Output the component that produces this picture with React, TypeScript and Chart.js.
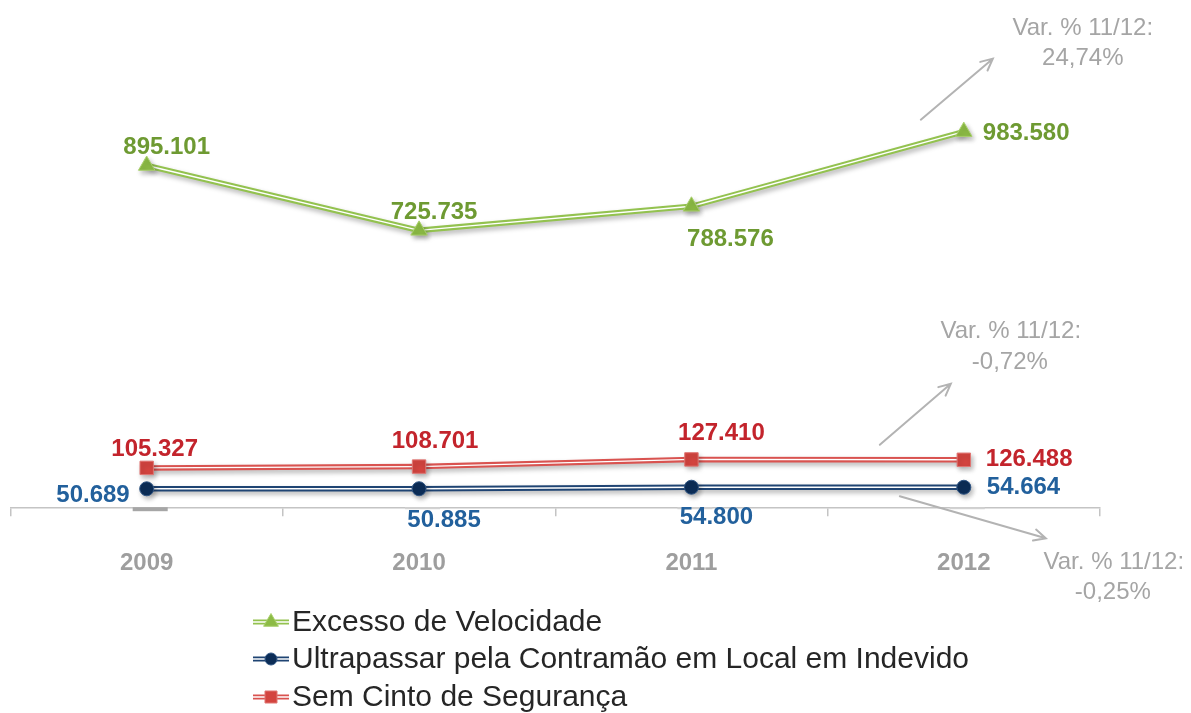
import React, { useEffect, useRef } from "react";
import { Chart, registerables } from "chart.js";
Chart.register(...registerables);

const years = ["2009", "2010", "2011", "2012"];
const excessoVelocidade = [895101, 725735, 788576, 983580];
const ultrapassarContramao = [50689, 50885, 54800, 54664];
const semCinto = [105327, 108701, 127410, 126488];
const seriesNames = [
  "Excesso de Velocidade",
  "Ultrapassar pela Contramão em Local em Indevido",
  "Sem Cinto de Segurança",
];
const variationTitle = "Var. % 11/12:";
const variationValues = ["24,74%", "-0,72%", "-0,25%"]; // Excesso, Sem Cinto, Ultrapassar

const FONT = "'Liberation Sans', Arial, Helvetica, sans-serif";

const fmt = (n: number) => String(n).replace(/\B(?=(\d{3})+(?!\d))/g, ".");

// style / placement of each series (not data)
const seriesStyles = [
  {
    line: "#93c24f",
    pointStyle: "triangle",
    radius: 9.5,
    fill: "#8cbb45",
    border: "#a9d06c",
    label: "#6e9a32",
    offsets: [
      [20, -18, "center"],
      [15, -18, "center"],
      [39, 33, "center"],
      [19, 2, "left"],
    ],
  },
  {
    line: "#1f4473",
    pointStyle: "circle",
    radius: 7,
    fill: "#0c2d57",
    border: "#2f5584",
    label: "#22609c",
    offsets: [
      [-17, 7, "right"],
      [25, 32, "center"],
      [25, 30, "center"],
      [23, 0, "left"],
    ],
  },
  {
    line: "#d95350",
    pointStyle: "rect",
    radius: 9.5,
    fill: "#d3443f",
    border: "#e07673",
    label: "#c3242c",
    offsets: [
      [8, -19, "center"],
      [16, -25, "center"],
      [30, -26, "center"],
      [22, 0, "left"],
    ],
  },
];

const seriesData = [excessoVelocidade, ultrapassarContramao, semCinto];

function drawMarker(ctx: CanvasRenderingContext2D, style: string, x: number, y: number, r: number, fill: string, border: string) {
  ctx.save();
  ctx.fillStyle = fill;
  ctx.strokeStyle = border;
  ctx.lineWidth = 1;
  ctx.beginPath();
  if (style === "triangle") {
    ctx.moveTo(x, y - r);
    ctx.lineTo(x + r * 0.87, y + r * 0.5);
    ctx.lineTo(x - r * 0.87, y + r * 0.5);
    ctx.closePath();
  } else if (style === "circle") {
    ctx.arc(x, y, r, 0, Math.PI * 2);
  } else {
    const s = r * Math.SQRT1_2;
    ctx.rect(x - s, y - s, 2 * s, 2 * s);
  }
  ctx.fill();
  ctx.stroke();
  ctx.restore();
}

function arrow(ctx: CanvasRenderingContext2D, x1: number, y1: number, x2: number, y2: number) {
  ctx.save();
  ctx.strokeStyle = "#b3b3b3";
  ctx.lineWidth = 2;
  ctx.lineCap = "round";
  ctx.beginPath();
  ctx.moveTo(x1, y1);
  ctx.lineTo(x2, y2);
  const a = Math.atan2(y2 - y1, x2 - x1);
  const L = 13;
  ctx.moveTo(x2 - L * Math.cos(a - 0.45), y2 - L * Math.sin(a - 0.45));
  ctx.lineTo(x2, y2);
  ctx.lineTo(x2 - L * Math.cos(a + 0.45), y2 - L * Math.sin(a + 0.45));
  ctx.stroke();
  ctx.restore();
}

const shadowPlugin = {
  id: "lineShadow",
  beforeDatasetDraw(chart: any, args: any) {
    const ds = chart.data.datasets[args.index];
    if (ds.shadow) {
      const ctx = chart.ctx;
      ctx.save();
      ctx.shadowColor = "rgba(0,0,0,0.28)";
      ctx.shadowBlur = 5;
      ctx.shadowOffsetX = 2;
      ctx.shadowOffsetY = 3;
    }
  },
  afterDatasetDraw(chart: any, args: any) {
    const ds = chart.data.datasets[args.index];
    if (ds.shadow) chart.ctx.restore();
  },
};

const decorPlugin = {
  id: "decor",
  beforeDatasetsDraw(chart: any) {
    const ctx = chart.ctx;
    const x = chart.scales.x;
    const yb = chart.chartArea.bottom;
    ctx.save();
    years.forEach((_, i) => {
      const px = x.getPixelForValue(i);
      ctx.fillStyle = i === 0 ? "#a6a6a6" : "#d2d2d2";
      ctx.fillRect(px - 14, yb - 1, 35, i === 0 ? 4 : 2);
    });
    ctx.restore();
  },
  afterDraw(chart: any) {
    const ctx = chart.ctx;
    // data labels
    ctx.save();
    ctx.font = `bold 24px ${FONT}`;
    ctx.textBaseline = "middle";
    seriesStyles.forEach((st, k) => {
      const meta = chart.getDatasetMeta(k * 3 + 2);
      meta.data.forEach((pt: any, i: number) => {
        const [dx, dy, align] = st.offsets[i] as [number, number, CanvasTextAlign];
        ctx.fillStyle = st.label;
        ctx.textAlign = align;
        ctx.fillText(fmt(seriesData[k][i]), pt.x + dx, pt.y + dy);
      });
    });
    ctx.restore();

    // variation annotations (relative to 2012 points)
    const last = years.length - 1;
    const pG = chart.getDatasetMeta(2).data[last];
    const pB = chart.getDatasetMeta(5).data[last];
    const pR = chart.getDatasetMeta(8).data[last];
    ctx.save();
    ctx.font = `24px ${FONT}`;
    ctx.fillStyle = "#a5a5a5";
    ctx.textAlign = "center";
    ctx.textBaseline = "middle";
    arrow(ctx, pG.x - 43, pG.y - 12, pG.x + 29, pG.y - 73);
    ctx.fillText(variationTitle, pG.x + 119, pG.y - 103);
    ctx.fillText(variationValues[0], pG.x + 119, pG.y - 73);
    arrow(ctx, pR.x - 84, pR.y - 15, pR.x - 13, pR.y - 76);
    ctx.fillText(variationTitle, pR.x + 47, pR.y - 128);
    ctx.fillText(variationValues[1], pR.x + 46, pR.y - 97);
    arrow(ctx, pB.x - 64, pB.y + 9, pB.x + 82, pB.y + 51);
    ctx.fillText(variationTitle, pB.x + 150, pB.y + 75);
    ctx.fillText(variationValues[2], pB.x + 149, pB.y + 105);
    ctx.restore();

    // legend
    ctx.save();
    ctx.font = `30px ${FONT}`;
    ctx.textBaseline = "middle";
    ctx.textAlign = "left";
    const rows = [622, 659, 697];
    seriesStyles.forEach((st, k) => {
      const y = rows[k];
      ctx.strokeStyle = st.line;
      ctx.lineWidth = 5;
      ctx.beginPath();
      ctx.moveTo(253, y);
      ctx.lineTo(289, y);
      ctx.stroke();
      ctx.strokeStyle = "#ffffff";
      ctx.lineWidth = 1.3;
      ctx.beginPath();
      ctx.moveTo(253, y);
      ctx.lineTo(289, y);
      ctx.stroke();
      drawMarker(ctx, st.pointStyle, 271, y, st.radius - 1, st.fill, st.border);
      ctx.fillStyle = "#262626";
      ctx.fillText(seriesNames[k], 292, y + 1);
    });
    ctx.restore();
  },
};

export default function App() {
  const ref = useRef<HTMLCanvasElement>(null);
  useEffect(() => {
    const datasets: any[] = [];
    seriesStyles.forEach((st, k) => {
      const data = seriesData[k];
      datasets.push({
        label: seriesNames[k] + " line",
        data,
        borderColor: st.line,
        borderWidth: 5.5,
        pointRadius: 0,
        tension: 0,
        order: k * 3 + 2,
        shadow: true,
        clip: false,
      });
      datasets.push({
        label: seriesNames[k] + " inner",
        data,
        borderColor: "#ffffff",
        borderWidth: 1.4,
        pointRadius: 0,
        tension: 0,
        order: k * 3 + 1,
        clip: false,
      });
      datasets.push({
        label: seriesNames[k],
        data,
        showLine: false,
        pointStyle: st.pointStyle,
        pointRadius: st.radius,
        pointBackgroundColor: st.fill,
        pointBorderColor: st.border,
        pointBorderWidth: 1,
        order: k * 3,
        shadow: true,
        clip: false,
      });
    });
    const chart = new Chart(ref.current!, {
      type: "line",
      data: { labels: years, datasets },
      options: {
        responsive: false,
        animation: false,
        events: [],
        layout: { padding: { left: 10, right: 91, top: 10, bottom: 102 } },
        plugins: { legend: { display: false }, tooltip: { enabled: false } },
        scales: {
          x: {
            offset: true,
            grid: {
              offset: true,
              drawOnChartArea: false,
              drawTicks: true,
              tickLength: 8,
              color: "#c4c4c4",
              lineWidth: 1.5,
            },
            border: { display: true, color: "#c4c4c4", width: 1.5 },
            ticks: {
              padding: 33,
              color: "#9e9e9e",
              font: { family: FONT, size: 24, weight: "bold" },
            },
          },
          y: { display: false, min: 0, max: 1300000 },
        },
      },
      plugins: [shadowPlugin, decorPlugin],
    } as any);
    return () => chart.destroy();
  }, []);
  return (
    <div style={{ position: "fixed", left: 0, top: 0, width: 1191, height: 713, background: "#fff" }}>
      <canvas ref={ref} width={1191} height={713} style={{ display: "block" }} />
    </div>
  );
}
